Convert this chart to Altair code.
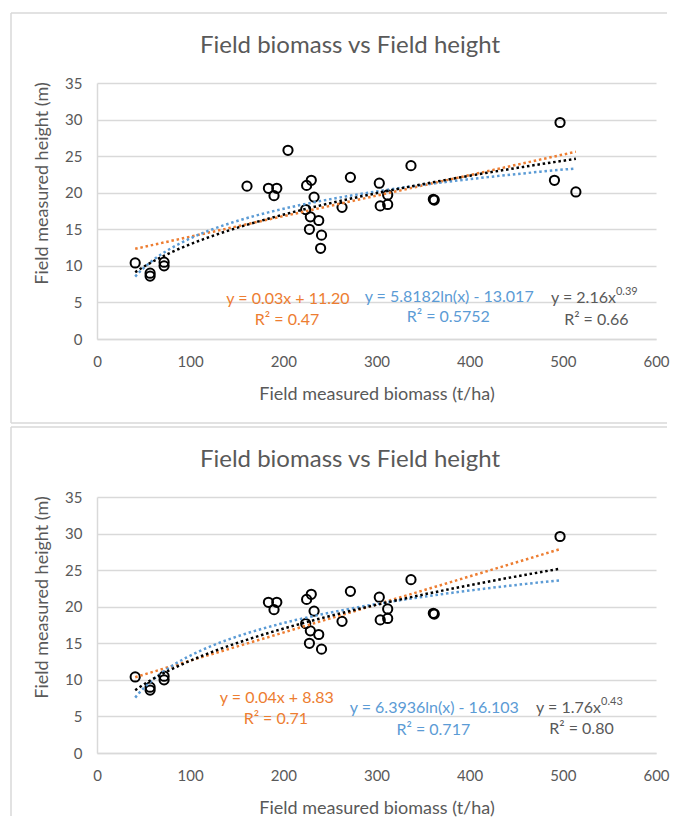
import altair as alt
import pandas as pd

TITLE = "Field biomass vs Field height"
X_TITLE = "Field measured biomass (t/ha)"
Y_TITLE = "Field measured height (m)"
X_TICKS = [0, 100, 200, 300, 400, 500, 600]
Y_TICKS = [0, 5, 10, 15, 20, 25, 30, 35]

# ---- top panel data ----
top_biomass = [41, 57, 57, 72, 72, 161, 184, 190, 193, 205, 224, 225, 228, 229, 230,
               233, 238, 240, 241, 263, 272, 303, 304, 312, 312, 337, 361, 362, 491, 497, 514]
top_height = [10.4, 9.0, 8.6, 10.5, 10.0, 20.9, 20.6, 19.6, 20.6, 25.8, 17.7, 21.0, 15.0, 16.7, 21.7,
              19.4, 16.2, 12.4, 14.2, 18.0, 22.1, 21.3, 18.2, 19.7, 18.4, 23.7, 19.1, 19.0, 21.7, 29.6, 20.1]

# ---- bottom panel data ----
bottom_biomass = [41, 57, 57, 72, 72, 184, 190, 193, 224, 225, 228, 229, 230,
                  233, 238, 241, 263, 272, 303, 304, 312, 312, 337, 361, 362, 497]
bottom_height = [10.4, 9.0, 8.6, 10.5, 10.0, 20.6, 19.6, 20.6, 17.7, 21.0, 15.0, 16.7, 21.7,
                 19.4, 16.2, 14.2, 18.0, 22.1, 21.3, 18.2, 19.7, 18.4, 23.7, 19.1, 19.0, 29.6]

ORANGE = "#ED7D31"
BLUE = "#5B9BD5"
BLACK = "#000000"
GREY = "#595959"
LINE = "#d9d9d9"
FONT = "Lato"

# trendline annotations (text, x, y, colour)
top_ann_text = ["y = 0.03x + 11.20", "R² = 0.47", "y = 5.8182ln(x) - 13.017", "R² = 0.5752", "R² = 0.66"]
top_ann_x = [205, 204, 378, 377, 536]
top_ann_y = [5.5, 2.6, 5.8, 3.0, 2.65]
top_ann_color = [ORANGE, ORANGE, BLUE, BLUE, GREY]
top_pow_base, top_pow_exp, top_pow_x, top_pow_y = "y = 2.16x", "0.39", 557, 5.55

bottom_ann_text = ["y = 0.04x + 8.83", "R² = 0.71", "y = 6.3936ln(x) - 16.103", "R² = 0.717", "R² = 0.80"]
bottom_ann_x = [193, 192, 362, 361, 520]
bottom_ann_y = [7.55, 4.65, 6.1, 3.2, 3.3]
bottom_ann_color = [ORANGE, ORANGE, BLUE, BLUE, GREY]
bottom_pow_base, bottom_pow_exp, bottom_pow_x, bottom_pow_y = "y = 1.76x", "0.43", 541, 6.15

XS = alt.Scale(domain=[0, 600], nice=False, zero=False)
YS = alt.Scale(domain=[0, 35], nice=False, zero=False)
XAXIS = alt.Axis(values=X_TICKS, title=X_TITLE, grid=False, ticks=False, labelOverlap=False,
                 labelFlush=False, labelPadding=15, titleY=55, titleBaseline="middle")
YAXIS = alt.Axis(values=Y_TICKS, title=Y_TITLE, grid=True, ticks=False, labelOverlap=False,
                 labelFlush=False, labelPadding=15, titleX=-55, titleY=100, titleAngle=-90,
                 titleBaseline="middle", titleAlign="center")


def xq():
    return alt.X("biomass:Q", scale=XS, axis=XAXIS)


def yq():
    return alt.Y("height:Q", scale=YS, axis=YAXIS)


def panel(xs, ys, ann_text, ann_x, ann_y, ann_color, pbase, pexp, px, py, frame_bottom, closed):
    df = pd.DataFrame({"biomass": xs, "height": ys})
    base = alt.Chart(df)
    pts = base.mark_point(shape="circle", filled=False, color=BLACK, size=85,
                          strokeWidth=2, opacity=1).encode(x=xq(), y=yq())

    def trend(method, color):
        return base.transform_regression("biomass", "height", method=method).mark_line(
            color=color, strokeWidth=2.5, strokeDash=[2.5, 2.8]).encode(x=xq(), y=yq())

    ann_df = pd.DataFrame({"biomass": ann_x, "height": ann_y, "t": ann_text, "c": ann_color})
    ann = alt.Chart(ann_df).mark_text(font=FONT, fontSize=16).encode(
        x=xq(), y=yq(), text="t:N", color=alt.Color("c:N", scale=None))
    pow_df = pd.DataFrame({"biomass": [px], "height": [py], "b": [pbase], "e": [pexp]})
    pow_base = alt.Chart(pow_df).mark_text(font=FONT, fontSize=16, align="right", color=GREY).encode(
        x=xq(), y=yq(), text="b:N")
    pow_exp = alt.Chart(pow_df).mark_text(font=FONT, fontSize=11, align="left", dy=-6, color=GREY).encode(
        x=xq(), y=yq(), text="e:N")

    one = pd.DataFrame({"k": [0]})
    deco = alt.Chart(one)
    layers = [
        deco.mark_rule(color=LINE, strokeWidth=1.5).encode(x=alt.value(-86), x2=alt.value(570), y=alt.value(-70)),
        deco.mark_rule(color=LINE, strokeWidth=1.5).encode(x=alt.value(-86), y=alt.value(-70), y2=alt.value(frame_bottom)),
    ]
    if closed:
        layers.append(deco.mark_rule(color=LINE, strokeWidth=1.5).encode(
            x=alt.value(-86), x2=alt.value(570), y=alt.value(frame_bottom)))
    layers.append(deco.mark_text(font=FONT, fontSize=24, color=GREY).encode(
        x=alt.value(253), y=alt.value(-37), text=alt.value(TITLE)))
    layers += [pts, trend("linear", ORANGE), trend("log", BLUE), trend("pow", BLACK),
               ann, pow_base, pow_exp]
    return alt.layer(*layers).properties(width=559, height=256)


top = panel(top_biomass, top_height, top_ann_text, top_ann_x, top_ann_y, top_ann_color,
            top_pow_base, top_pow_exp, top_pow_x, top_pow_y, 340, True)
bottom = panel(bottom_biomass, bottom_height, bottom_ann_text, bottom_ann_x, bottom_ann_y, bottom_ann_color,
               bottom_pow_base, bottom_pow_exp, bottom_pow_x, bottom_pow_y, 319, False)

chart = alt.vconcat(top, bottom, spacing=2).properties(
    padding={"left": 2, "top": 4, "right": 0, "bottom": 0}
).configure_view(strokeWidth=0).configure_axis(
    labelFont=FONT, titleFont=FONT, labelColor=GREY, titleColor=GREY,
    labelFontSize=15, titleFontSize=18, titleFontWeight="normal",
    domainColor=LINE, domainWidth=1.5, gridColor=LINE, gridWidth=1.5
)

chart.save("out.html", embed_options={"renderer": "svg", "actions": False})
